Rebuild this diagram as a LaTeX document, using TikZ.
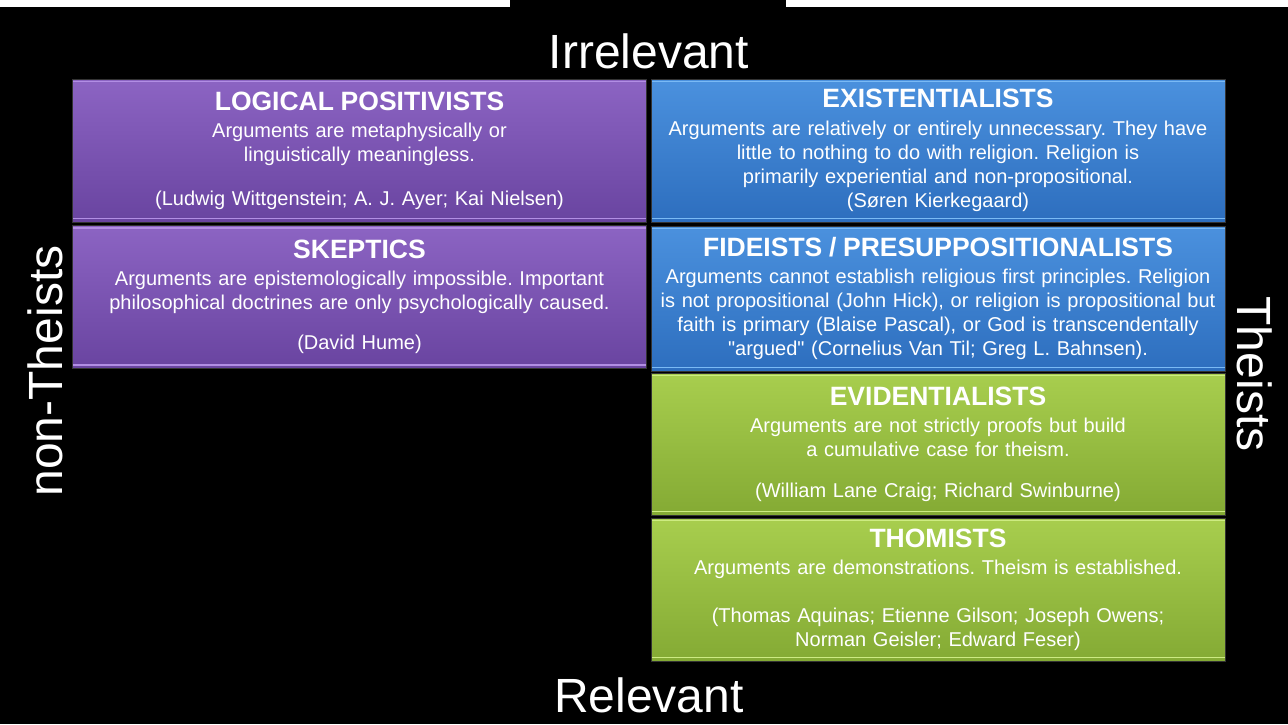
\documentclass[tikz,border=0pt]{standalone}
\usepackage{fontspec}
\setmainfont{Liberation Sans}
\newfontfamily\nomapfont{Liberation Sans}[Ligatures=ResetAll]
\frenchspacing
\definecolor{purpleT}{RGB}{140,100,195}
\definecolor{purpleB}{RGB}{105,68,160}
\definecolor{purpleH}{RGB}{178,142,228}
\definecolor{blueT}{RGB}{75,145,222}
\definecolor{blueB}{RGB}{45,110,190}
\definecolor{blueH}{RGB}{122,186,245}
\definecolor{greenT}{RGB}{168,206,78}
\definecolor{greenB}{RGB}{132,170,52}
\definecolor{greenH}{RGB}{205,235,130}
\newcommand{\ttl}[1]{{\fontsize{26.5}{24}\selectfont\bfseries #1}}
\newcommand{\dq}{{\nomapfont"}}
\tikzset{
  box/.style={minimum width=574pt, minimum height=143pt, inner sep=0pt,
    draw=black!80, line width=0.8pt, text=white, align=center, text width=570pt,
    font=\fontsize{20}{24}\selectfont\frenchspacing,
    top color=#1T, bottom color=#1B,
    path picture={
      \draw[#1H, line width=1.6pt] ([yshift=-2.5pt]path picture bounding box.north west) -- ([yshift=-2.5pt]path picture bounding box.north east);
      \draw[#1H, line width=1.6pt] ([yshift=3.5pt]path picture bounding box.south west) -- ([yshift=3.5pt]path picture bounding box.south east);
    }},
  axislabel/.style={text=white, font=\fontsize{48}{50}\selectfont, inner sep=0pt}
}
\begin{document}
\begin{tikzpicture}[x=1pt,y=-1pt]
\fill[black] (0,0) rectangle (1288,724);
\useasboundingbox (0,0) rectangle (1288,724);
\fill[white] (0,0) rectangle (510,7);
\fill[white] (786,0) rectangle (1288,7);

\node[box=purple] (lp) at (359.5,150.5) {\ttl{LOGICAL POSITIVISTS}\\[3pt]
Arguments are metaphysically or\\ linguistically meaningless.\\[20pt]
(Ludwig Wittgenstein; A. J. Ayer; Kai Nielsen)};

\node[box=purple] (sk) at (359.5,297) {\ttl{SKEPTICS}\\[3pt]
Arguments are epistemologically impossible. Important\\
philosophical doctrines are only psychologically caused.\\[16pt]
(David Hume)};

\node[box=blue] (ex) at (938,150.5) {\ttl{EXISTENTIALISTS}\\[4pt]
Arguments are relatively or entirely unnecessary. They have\\
little to nothing to do with religion. Religion is\\
primarily experiential and non-propositional.\\
(Søren Kierkegaard)};

\node[box=blue, minimum height=145pt] (fi) at (938,298.5) {\ttl{FIDEISTS / PRESUPPOSITIONALISTS}\\[3pt]
Arguments cannot establish religious first principles. Religion\\
is not propositional (John Hick), or religion is propositional but\\
faith is primary (Blaise Pascal), or God is transcendentally\\
\dq argued\dq{} (Cornelius Van Til; Greg L. Bahnsen).};

\node[box=green, minimum height=142pt] (ev) at (938,444) {\ttl{EVIDENTIALISTS}\\[3pt]
Arguments are not strictly proofs but build\\
a cumulative case for theism.\\[17pt]
(William Lane Craig; Richard Swinburne)};

\node[box=green] (th) at (938,589.5) {\ttl{THOMISTS}\\[3pt]
Arguments are demonstrations. Theism is established.\\[24pt]
(Thomas Aquinas; Etienne Gilson; Joseph Owens;\\
Norman Geisler; Edward Feser)};

\node[axislabel, anchor=base] (irr) at (649,68) {Irrelevant};
\node[axislabel, anchor=base] (rel) at (649,712) {Relevant};
\node[axislabel, rotate=90] (nth) at (45,371) {non-Theists};
\node[axislabel, rotate=-90] (th2) at (1255,374) {Theists};
\end{tikzpicture}
\end{document}
